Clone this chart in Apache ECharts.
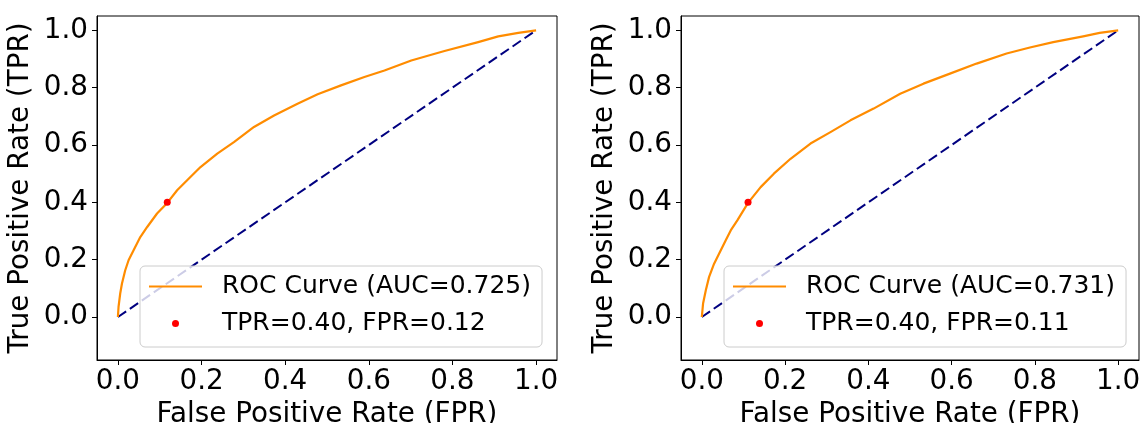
<!DOCTYPE html>
<html>
<head>
<meta charset="utf-8">
<script src="https://cdn.jsdelivr.net/npm/echarts@6/dist/echarts.min.js"></script>
<style>
html,body{margin:0;padding:0;background:#fff;}
#chart{width:1145px;height:423px;}
</style>
</head>
<body>
<div id="chart"></div>
<script>
// ---- data ----
const tickValues = [0, 0.2, 0.4, 0.6, 0.8, 1.0];

const fprA = [0, 0.0015, 0.0055, 0.0096, 0.0175, 0.0255, 0.0375, 0.0535, 0.070, 0.0936, 0.118, 0.1416, 0.1656, 0.1975, 0.2376, 0.2774, 0.3254, 0.3734, 0.4295, 0.4776, 0.5335, 0.5894, 0.6374, 0.7015, 0.7495, 0.781, 0.8615, 0.9095, 0.9575, 1.0];
const tprA = [0, 0.035, 0.082, 0.116, 0.163, 0.198, 0.233, 0.279, 0.314, 0.361, 0.398, 0.442, 0.477, 0.523, 0.570, 0.610, 0.663, 0.703, 0.744, 0.777, 0.808, 0.837, 0.860, 0.895, 0.915, 0.928, 0.959, 0.979, 0.991, 1.0];
const fprB = [0, 0.003, 0.0096, 0.0175, 0.0295, 0.0414, 0.0575, 0.0694, 0.0853, 0.111, 0.1413, 0.173, 0.2131, 0.261, 0.309, 0.357, 0.4126, 0.4765, 0.5323, 0.596, 0.660, 0.732, 0.788, 0.844, 0.916, 0.9555, 1.0];
const tprB = [0, 0.047, 0.093, 0.140, 0.186, 0.221, 0.268, 0.302, 0.337, 0.398, 0.453, 0.500, 0.552, 0.605, 0.645, 0.686, 0.727, 0.779, 0.814, 0.849, 0.884, 0.919, 0.940, 0.959, 0.979, 0.991, 1.0];

const chanceX = [0, 1];
const chanceY = [0, 1];

const pointA = [0.118, 0.40];
const pointB = [0.111, 0.40];

const rocNames = ['ROC Curve (AUC=0.725)', 'ROC Curve (AUC=0.731)'];
const pointNames = ['TPR=0.40, FPR=0.12', 'TPR=0.40, FPR=0.11'];
const xTitle = 'False Positive Rate (FPR)';
const yTitle = 'True Positive Rate (TPR)';

// ---- build ----
const FONT = 'DejaVu Sans';
const zip = (a, b) => a.map((v, i) => [v, b[i]]);

const grids = [
  {left: 97, top: 16, width: 460, height: 344},
  {left: 681, top: 16, width: 458, height: 344}
];

function xAxisFor(i) {
  return {
    gridIndex: i, type: 'value', min: -0.05, max: 1.05,
    name: xTitle, nameLocation: 'middle', nameGap: 36,
    nameTextStyle: {fontFamily: FONT, fontSize: 27.8, color: '#000'},
    axisLine: {show: true, onZero: false, lineStyle: {color: '#000', width: 1}},
    axisTick: {show: true, length: 5, customValues: tickValues, lineStyle: {color: '#000', width: 1}},
    axisLabel: {customValues: tickValues, margin: 8, fontFamily: FONT, fontSize: 27.8, color: '#000',
      formatter: v => v.toFixed(1)},
    splitLine: {show: false}
  };
}
function yAxisFor(i) {
  return {
    gridIndex: i, type: 'value', min: -0.15, max: 1.05,
    name: yTitle, nameLocation: 'middle', nameGap: 62, nameRotate: 90,
    nameTextStyle: {fontFamily: FONT, fontSize: 27.8, color: '#000'},
    axisLine: {show: true, onZero: false, lineStyle: {color: '#000', width: 1}},
    axisTick: {show: true, length: 5, customValues: tickValues, lineStyle: {color: '#000', width: 1}},
    axisLabel: {customValues: tickValues, margin: 9, fontFamily: FONT, fontSize: 27.8, color: '#000',
      formatter: v => v.toFixed(1)},
    splitLine: {show: false}
  };
}
function legendFor(i) {
  return {
    orient: 'vertical', left: grids[i].left + 43, top: 266,
    data: [
      {name: rocNames[i], icon: 'path://M0,0L100,0L100,4L0,4Z'},
      {name: pointNames[i], icon: 'circle'}
    ],
    itemWidth: 53, itemHeight: 7, itemGap: 12,
    padding: [8, 11, 11, 9],
    backgroundColor: 'rgba(255,255,255,0.8)',
    borderColor: '#cccccc', borderWidth: 1, borderRadius: 5,
    textStyle: {fontFamily: FONT, fontSize: 25, color: '#000', lineHeight: 25, padding: [0, 0, 0, 15]},
    selectedMode: false
  };
}

const series = [];
[[fprA, tprA, pointA], [fprB, tprB, pointB]].forEach(([fx, ty, pt], i) => {
  series.push({
    name: 'chance' + i, type: 'line', xAxisIndex: i, yAxisIndex: i,
    data: zip(chanceX, chanceY), symbol: 'none', silent: true,
    lineStyle: {color: '#000080', width: 2, type: [10, 4.5]}, z: 2
  });
  series.push({
    name: rocNames[i], type: 'line', xAxisIndex: i, yAxisIndex: i,
    data: zip(fx, ty), symbol: 'none', smooth: false,
    lineStyle: {color: '#ff8c00', width: 2.2, join: 'round'}, itemStyle: {color: '#ff8c00'}, z: 3
  });
  series.push({
    name: pointNames[i], type: 'scatter', xAxisIndex: i, yAxisIndex: i,
    data: [pt], symbol: 'circle', symbolSize: 7,
    itemStyle: {color: '#ff0000', opacity: 1}, z: 4
  });
});

const chart = echarts.init(document.getElementById('chart'), null, {renderer: 'canvas'});
chart.setOption({
  animation: false,
  backgroundColor: '#fff',
  grid: grids.map(g => Object.assign({show: true, borderColor: '#000', borderWidth: 1,
    containLabel: false, outerBoundsMode: 'none'}, g)),
  xAxis: [xAxisFor(0), xAxisFor(1)],
  yAxis: [yAxisFor(0), yAxisFor(1)],
  legend: [legendFor(0), legendFor(1)],
  series: series
});
</script>
</body>
</html>
